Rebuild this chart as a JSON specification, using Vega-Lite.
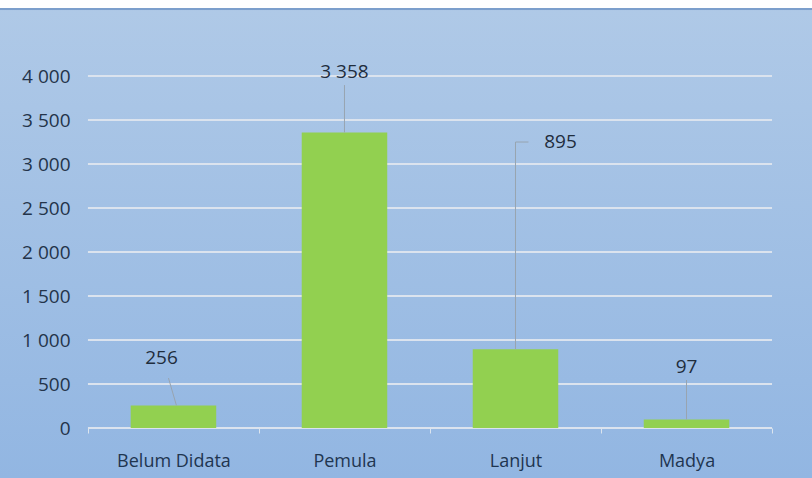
{
  "$schema": "https://vega.github.io/schema/vega-lite/v6.json",
  "width": 812,
  "height": 478,
  "padding": 0,
  "autosize": {"type": "none"},
  "background": "#ffffff",
  "config": {
    "locale": {"number": {"decimal": ",", "thousands": " ", "grouping": [3], "currency": ["", ""]}},
    "view": {
      "stroke": null,
      "fill": {
        "gradient": "linear", "x1": 0, "y1": 0, "x2": 0, "y2": 1,
        "stops": [
          {"offset": 0, "color": "#ffffff"},
          {"offset": 0.016, "color": "#ffffff"},
          {"offset": 0.017, "color": "#7c9fcc"},
          {"offset": 0.021, "color": "#7c9fcc"},
          {"offset": 0.022, "color": "#afc9e7"},
          {"offset": 1, "color": "#92b6e2"}
        ]
      }
    },
    "font": "Open Sans, sans-serif"
  },
  "datasets": {
    "grid": [{"v": 0}, {"v": 500}, {"v": 1000}, {"v": 1500}, {"v": 2000}, {"v": 2500}, {"v": 3000}, {"v": 3500}, {"v": 4000}]
  },
  "data": {
    "values": [
      {"kategori": "Belum Didata", "jumlah": 256, "labelY": 795},
      {"kategori": "Pemula", "jumlah": 3358, "labelY": 4045},
      {"kategori": "Lanjut", "jumlah": 895, "labelY": 3250},
      {"kategori": "Madya", "jumlah": 97, "labelY": 693}
    ]
  },
  "encoding": {
    "x": {
      "field": "kategori", "type": "nominal", "sort": null,
      "scale": {"domain": ["Belum Didata", "Pemula", "Lanjut", "Madya"], "paddingInner": 0, "paddingOuter": 0.374, "align": 0.6875},
      "axis": {
        "title": null, "orient": "bottom", "offset": -50, "domain": false,
        "ticks": true, "tickBand": "extent", "tickSize": 5, "tickColor": "#dbe4ee", "tickWidth": 1,
        "labelAngle": 0, "labelPadding": 19, "labelFontSize": 18, "labelColor": "#1f3550", "grid": false
      }
    }
  },
  "layer": [
    {
      "data": {"name": "grid"},
      "mark": {"type": "rule", "color": "#dbe3ee", "strokeWidth": 2},
      "encoding": {
        "x": {"datum": "Belum Didata", "bandPosition": 0},
        "x2": {"datum": "Madya", "bandPosition": 1},
        "y": {"field": "v", "type": "quantitative",
              "scale": {"domain": [-568, 4864], "nice": false, "zero": false},
              "axis": {"title": null, "orient": "left", "offset": -72, "values": [0, 500, 1000, 1500, 2000, 2500, 3000, 3500, 4000],
                       "format": ",d", "domain": false, "ticks": false, "grid": false, "labelPadding": 2,
                       "labelFontSize": 19, "labelColor": "#24344a"}}
      }
    },
    {
      "mark": {"type": "bar", "color": "#92d050", "width": {"band": 0.5}},
      "encoding": {"y": {"field": "jumlah", "type": "quantitative"}}
    },
    {
      "transform": [{"filter": "datum.kategori === 'Pemula' || datum.kategori === 'Madya'"}],
      "mark": {"type": "rule", "color": "#98a4b0", "strokeWidth": 1, "y2Offset": 13},
      "encoding": {
        "y": {"field": "jumlah", "type": "quantitative"},
        "y2": {"field": "labelY"}
      }
    },
    {
      "transform": [{"filter": "datum.kategori === 'Belum Didata'"}],
      "mark": {"type": "rule", "color": "#98a4b0", "strokeWidth": 1, "y2Offset": 20, "xOffset": 3, "x2Offset": -5},
      "encoding": {
        "y": {"field": "jumlah", "type": "quantitative"},
        "y2": {"field": "labelY"},
        "x2": {"field": "kategori"}
      }
    },
    {
      "transform": [{"filter": "datum.kategori === 'Lanjut'"}],
      "mark": {"type": "rule", "color": "#98a4b0", "strokeWidth": 1},
      "encoding": {
        "y": {"field": "jumlah", "type": "quantitative"},
        "y2": {"field": "labelY"}
      }
    },
    {
      "transform": [{"filter": "datum.kategori === 'Lanjut'"}],
      "mark": {"type": "rule", "color": "#98a4b0", "strokeWidth": 1, "x2Offset": 13},
      "encoding": {
        "y": {"field": "labelY", "type": "quantitative"},
        "x2": {"field": "kategori"}
      }
    },
    {
      "transform": [{"filter": "datum.kategori === 'Pemula' || datum.kategori === 'Madya'"}],
      "mark": {"type": "text", "fontSize": 19, "color": "#1f2d3d", "baseline": "middle"},
      "encoding": {
        "y": {"field": "labelY", "type": "quantitative"},
        "text": {"field": "jumlah", "type": "quantitative", "format": ",d"}
      }
    },
    {
      "transform": [{"filter": "datum.kategori === 'Belum Didata'"}],
      "mark": {"type": "text", "fontSize": 19, "color": "#1f2d3d", "baseline": "middle", "dx": -12},
      "encoding": {
        "y": {"field": "labelY", "type": "quantitative"},
        "text": {"field": "jumlah", "type": "quantitative", "format": ",d"}
      }
    },
    {
      "transform": [{"filter": "datum.kategori === 'Lanjut'"}],
      "mark": {"type": "text", "fontSize": 19, "color": "#1f2d3d", "baseline": "middle", "dx": 45},
      "encoding": {
        "y": {"field": "labelY", "type": "quantitative"},
        "text": {"field": "jumlah", "type": "quantitative", "format": ",d"}
      }
    }
  ]
}
